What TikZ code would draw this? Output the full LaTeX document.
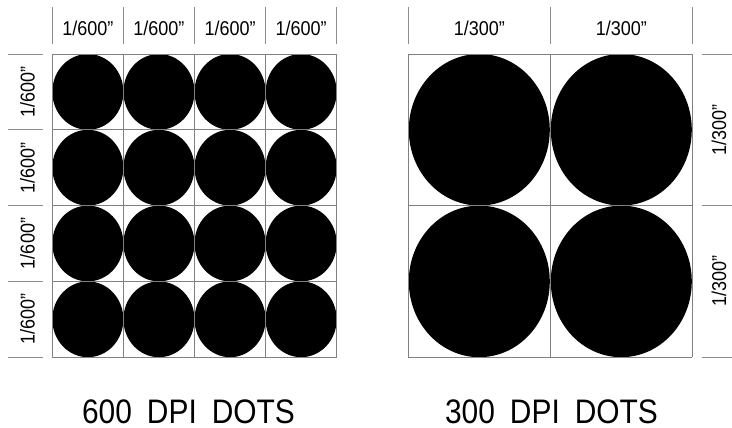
\documentclass[tikz,border=0pt]{standalone}
\usepackage{fontspec}
\setmainfont{Liberation Sans}
\tikzset{
  gridline/.style={draw=black!50, line width=0.9pt},
  tickline/.style={draw=black!45, line width=0.9pt},
  dot/.style={fill=black},
  dimlabel/.style={inner sep=0pt, anchor=base, font=\fontsize{20}{21}\selectfont},
  title/.style={inner sep=0pt, anchor=base, text depth=0pt, font=\fontsize{34}{35}\selectfont}
}
\newcommand{\sq}[1]{\scalebox{0.9}[1]{#1}}
\newcommand{\qt}{\symbol{34}}
\begin{document}
\begin{tikzpicture}[x=1pt,y=-1pt]
\useasboundingbox (0,0) rectangle (732,428);
% ---- left 600 dpi grid ----
\foreach \i in {0,...,3}{
  \foreach \j in {0,...,3}{
    \fill[dot] ({52.3+71.1*\i+35.55},{54+75.8*\j+37.9}) ellipse [x radius=35.55, y radius=37.9];
  }
}
\foreach \i in {0,...,4}{
  \draw[gridline] ({52.3+71.1*\i},54) -- ({52.3+71.1*\i},357.2);
  \draw[gridline] (52.3,{54+75.8*\i}) -- (336.7,{54+75.8*\i});
  \draw[tickline] ({52.3+71.1*\i},7) -- ({52.3+71.1*\i},44);
  \draw[tickline] (8,{54+75.8*\i}) -- (43,{54+75.8*\i});
}
\foreach \i in {0,...,3}{
  \node[dimlabel] (lt\i) at ({52.3+71.1*\i+35.55},36) {\sq{1/600\qt}};
  \node[dimlabel, rotate=90] (ll\i) at (34.5,{54+75.8*\i+37.9}) {\sq{1/600\qt}};
}
% ---- right 300 dpi grid ----
\foreach \i in {0,1}{
  \foreach \j in {0,1}{
    \fill[dot] ({408.3+142*\i+71},{54+151.6*\j+75.8}) ellipse [x radius=70.5, y radius=75.8];
  }
}
\foreach \i in {0,1,2}{
  \draw[gridline] ({408.3+142*\i},54) -- ({408.3+142*\i},357.2);
  \draw[gridline] (408.3,{54+151.6*\i}) -- (692.3,{54+151.6*\i});
  \draw[tickline] ({408.3+142*\i},7) -- ({408.3+142*\i},44);
  \draw[tickline] (701.7,{54+151.6*\i}) -- (732,{54+151.6*\i});
}
\foreach \i in {0,1}{
  \node[dimlabel] (rt\i) at ({408.3+142*\i+71},36) {\sq{1/300\qt}};
  \node[dimlabel, rotate=90] (rl\i) at (726,{54+151.6*\i+75.8}) {\sq{1/300\qt}};
}
% ---- titles ----
\node[title] (t600) at (188.5,423.5) {\scalebox{0.88}[1]{600\hspace{0.5em}DPI\hspace{0.5em}DOTS}};
\node[title] (t300) at (551.5,423.5) {\scalebox{0.88}[1]{300\hspace{0.5em}DPI\hspace{0.5em}DOTS}};
\end{tikzpicture}
\end{document}
